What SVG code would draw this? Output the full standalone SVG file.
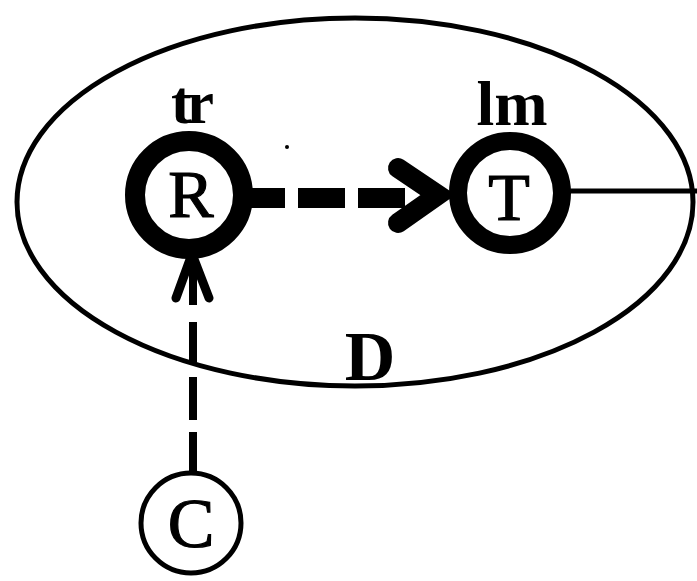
<svg xmlns="http://www.w3.org/2000/svg" width="697" height="581" viewBox="0 0 697 581">
<style>
.lbl{font-family:"Liberation Serif","Times New Roman",serif;font-weight:bold;fill:#000;text-anchor:middle}
.reg{font-weight:normal;stroke:#000;stroke-width:1.2}
.ring{fill:#fff;stroke:#000}
.ln{fill:none;stroke:#000}
</style>
<rect width="697" height="581" fill="#fff"/>
<g id="D">
<ellipse cx="355" cy="202" rx="338" ry="184" fill="none" stroke="#000" stroke-width="5"/>
<text class="lbl" x="370" y="380" font-size="70">D</text>
</g>
<g id="connectors">
<path class="ln" d="M245 198 H405" stroke-width="20" stroke-dasharray="40 13 47 13 47 30"/>
<path class="ln" d="M398 168 L438 195 L398 223" stroke-width="20" stroke-linecap="round" stroke-linejoin="miter"/>
<line class="ln" x1="560" y1="191" x2="697" y2="191" stroke-width="5"/>
<path class="ln" d="M193 250 V305 M193 322 V362 M193 377 V420 M193 432 V474" stroke-width="8"/>
<path class="ln" d="M176 298 L192 254 L209 298" stroke-width="9" stroke-linecap="round"/>
</g>
<g id="R">
<circle class="ring" cx="189" cy="195" r="54" stroke-width="20"/>
<text class="lbl reg" x="191" y="217" font-size="68">R</text>
<text class="lbl" x="190" y="123" font-size="62" letter-spacing="-5">tr</text>
</g>
<g id="T">
<circle class="ring" cx="510" cy="193" r="52" stroke-width="18"/>
<text class="lbl reg" x="509" y="220" font-size="68">T</text>
<text class="lbl" x="512" y="125" font-size="64">lm</text>
</g>
<g id="C">
<circle class="ring" cx="191" cy="523" r="50" stroke-width="5"/>
<text class="lbl reg" x="191" y="547" font-size="70">C</text>
</g>
<circle cx="287" cy="147" r="2" fill="#000"/>
</svg>
